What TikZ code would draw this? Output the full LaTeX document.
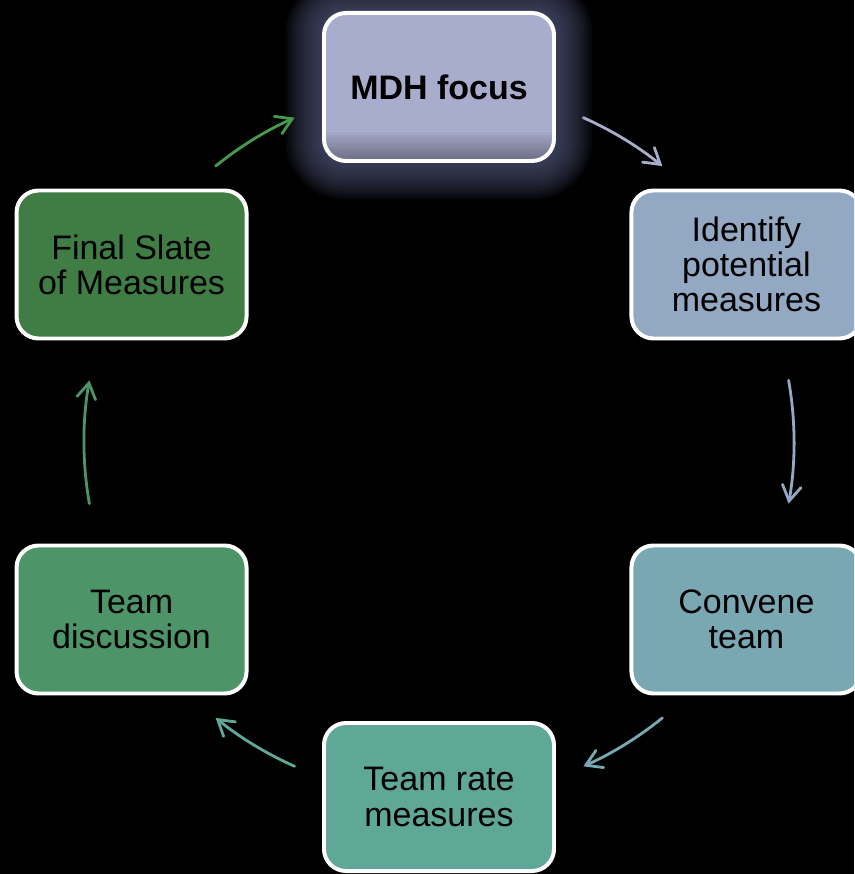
\documentclass[tikz,border=0pt]{standalone}
\usepackage{fontspec}
\setmainfont{Liberation Sans}
\usetikzlibrary{arrows.meta}

\definecolor{mdhcol}{HTML}{A9ADCD}
\definecolor{identcol}{HTML}{93A8C2}
\definecolor{convcol}{HTML}{79A8B3}
\definecolor{ratecol}{HTML}{5FA898}
\definecolor{disccol}{HTML}{4E9469}
\definecolor{slatecol}{HTML}{407D45}
\definecolor{slatearr}{HTML}{479A4C}
\definecolor{glowcol}{HTML}{555A80}

\tikzset{
  stepbox/.style={draw=white, line width=3.4pt, rounded corners=0.66cm,
    minimum width=6.9cm, minimum height=4.44cm, inner sep=0pt,
    align=center, text=black, font=\fontsize{29}{30}\selectfont},
  cycarrow/.style={line width=2.4pt, line cap=round,
    -{Straight Barb[length=13pt,width=16pt,line cap=round]}},
}

\begin{document}
\begin{tikzpicture}[x=0.03cm, y=0.03cm]
    % page, centre of the cycle at the origin
    \useasboundingbox (-439,-432) rectangle (415,442);
    \clip (-439,-432) rectangle (415,442);
    \fill[black] (-439,-432) rectangle (415,442);

    % glow round the top box
    \coordinate (top) at (90:355);
    \foreach \k in {1,...,14}
        \fill[glowcol, fill opacity=0.08, rounded corners=0.66cm+\k*0.078cm]
            (top) ++(-117-2.6*\k, -76-2.6*\k) rectangle ++(234+5.2*\k, 152+5.2*\k);

    \node[stepbox, fill=mdhcol, font=\fontsize{29}{30}\selectfont\bfseries,
          path picture={\foreach \j in {1,...,12}
              \fill[sharp corners, black, fill opacity=0.03]
                  (path picture bounding box.south west) ++(0,2.4*\j) rectangle (path picture bounding box.south east);}]
          (mdh) at (top) {MDH focus};
    \node[stepbox, fill=identcol] (ident) at (30:355)   {Identify\\potential\\measures};
    \node[stepbox, fill=convcol]  (conv)  at (-30:355)  {Convene\\team};
    \node[stepbox, fill=ratecol]  (rate)  at (-90:355)  {Team rate\\measures};
    \node[stepbox, fill=disccol]  (disc)  at (-150:355) {Team\\discussion};
    \node[stepbox, fill=slatecol] (slate) at (150:355)  {Final Slate\\of Measures};

    % arrows along the circle
    \coordinate (a1) at (66:355);
    \coordinate (a2) at (10:355);
    \coordinate (a3) at (-51:355);
    \coordinate (a4) at (-114:355);
    \coordinate (a5) at (-170:355);
    \coordinate (a6) at (129:355);

    \draw[cycarrow, mdhcol]   (a1) arc[start angle=66,   end angle=51,   radius=355];
    \draw[cycarrow, identcol] (a2) arc[start angle=10,   end angle=-10,  radius=355];
    \draw[cycarrow, convcol]  (a3) arc[start angle=-51,  end angle=-66,  radius=355];
    \draw[cycarrow, ratecol]  (a4) arc[start angle=-114, end angle=-129, radius=355];
    \draw[cycarrow, disccol]  (a5) arc[start angle=-170, end angle=-190, radius=355];
    \draw[cycarrow, slatearr] (a6) arc[start angle=129,  end angle=114,  radius=355];
\end{tikzpicture}
\end{document}
